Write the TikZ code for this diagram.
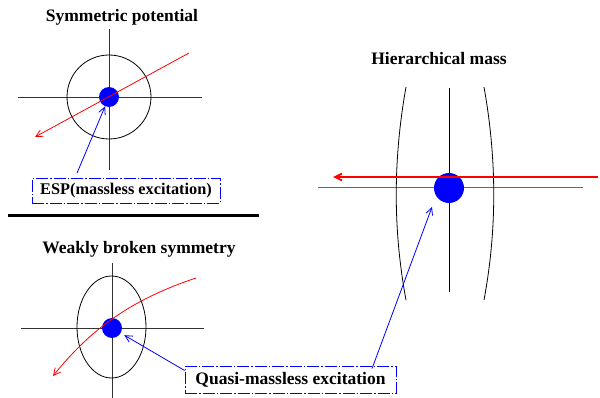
\documentclass[tikz,border=0pt]{standalone}
\usepackage{fontspec}
\setmainfont{Liberation Serif}
\newfontfamily\lblfont{Liberation Serif}
\usetikzlibrary{arrows.meta,positioning}

\begin{document}
\begin{tikzpicture}[
    x=1pt, y=-1pt,
    ttl/.style={font=\lblfont\bfseries\fontsize{17.5}{21}\selectfont},
    tag/.style={draw=blue, line width=0.8pt,
                dash pattern=on 12pt off 2pt on 1.5pt off 2pt,
                font=\lblfont\bfseries\fontsize{17.5}{21}\selectfont, inner sep=0pt,
                minimum width=#1, minimum height=25pt},
    dot/.style={circle, fill=blue, inner sep=0pt, minimum size=#1},
    axis/.style={line width=0.9pt, black!80},
    arr/.style={-{Straight Barb[length=7pt,width=7pt]}, red, line width=#1},
    ptr/.style={-{Straight Barb[length=7pt,width=7pt]}, blue, line width=0.8pt},
  ]
    \useasboundingbox (0,0) rectangle (600,398);

    % Symmetric potential
    \node[ttl] (t1) at (122,17) {Symmetric potential};
    \draw[axis] (18,97) -- (202,97);
    \draw[axis] (109,29) -- (109,170);
    \draw[line width=0.8pt] (109,97) circle[radius=42];
    \node[dot=20pt] (d1) at (109,97) {};
    \coordinate (r1a) at (189,53);
    \coordinate (r1b) at (35,137);
    \draw[arr=0.8pt] (r1a) -- (r1b);
    \node[tag=188pt, font=\lblfont\bfseries\fontsize{16.3}{20}\selectfont] (esp) at (126,191) {ESP(massless excitation)};
    \draw[ptr] ([xshift=-49pt,yshift=5pt]esp.north) -- (d1);

    % separator
    \draw[line width=3pt] (8,216) -- (259,216);

    % Weakly broken symmetry
    \node[ttl] (t2) at (139,249) {Weakly broken symmetry};
    \draw[axis] (21,328) -- (204,328);
    \draw[axis] (112,263) -- (112,398);
    \draw[line width=0.8pt] (111.5,327) ellipse[x radius=34.5, y radius=51];
    \node[dot=20pt] (d2) at (112,328) {};
    \coordinate (r2a) at (196,278);
    \coordinate (r2b) at (53,376);
    \draw[arr=0.8pt] (r2a) .. controls (130,300) and (90,330) .. (r2b);
    \node[tag=211pt, minimum height=27pt] (qm) at (290.5,379.5) {Quasi-massless excitation};
    \draw[ptr, shorten >=4pt] ([yshift=9pt]qm.west) -- (d2);

    % Hierarchical mass
    \node[ttl] (t3) at (439,59) {Hierarchical mass};
    \draw[line width=0.9pt, black!60] (318,187) -- (583,187);
    \draw[line width=0.9pt] (449,88) -- (449,292);
    \draw[line width=0.8pt] (406,87) .. controls (393,160) and (393,230) .. (406,300);
    \draw[line width=0.8pt] (484,87) .. controls (497,160) and (497,230) .. (484,300);
    \node[dot=30pt] (d3) at (449,188) {};
    \coordinate (r3a) at (598,177);
    \coordinate (r3b) at (333,177);
    \draw[arr=1.8pt] (r3a) -- (r3b);
    \coordinate (q3tip) at (432,207);
    \draw[ptr] ([xshift=81.5pt,yshift=-3pt]qm.north) -- (q3tip);
\end{tikzpicture}
\end{document}
